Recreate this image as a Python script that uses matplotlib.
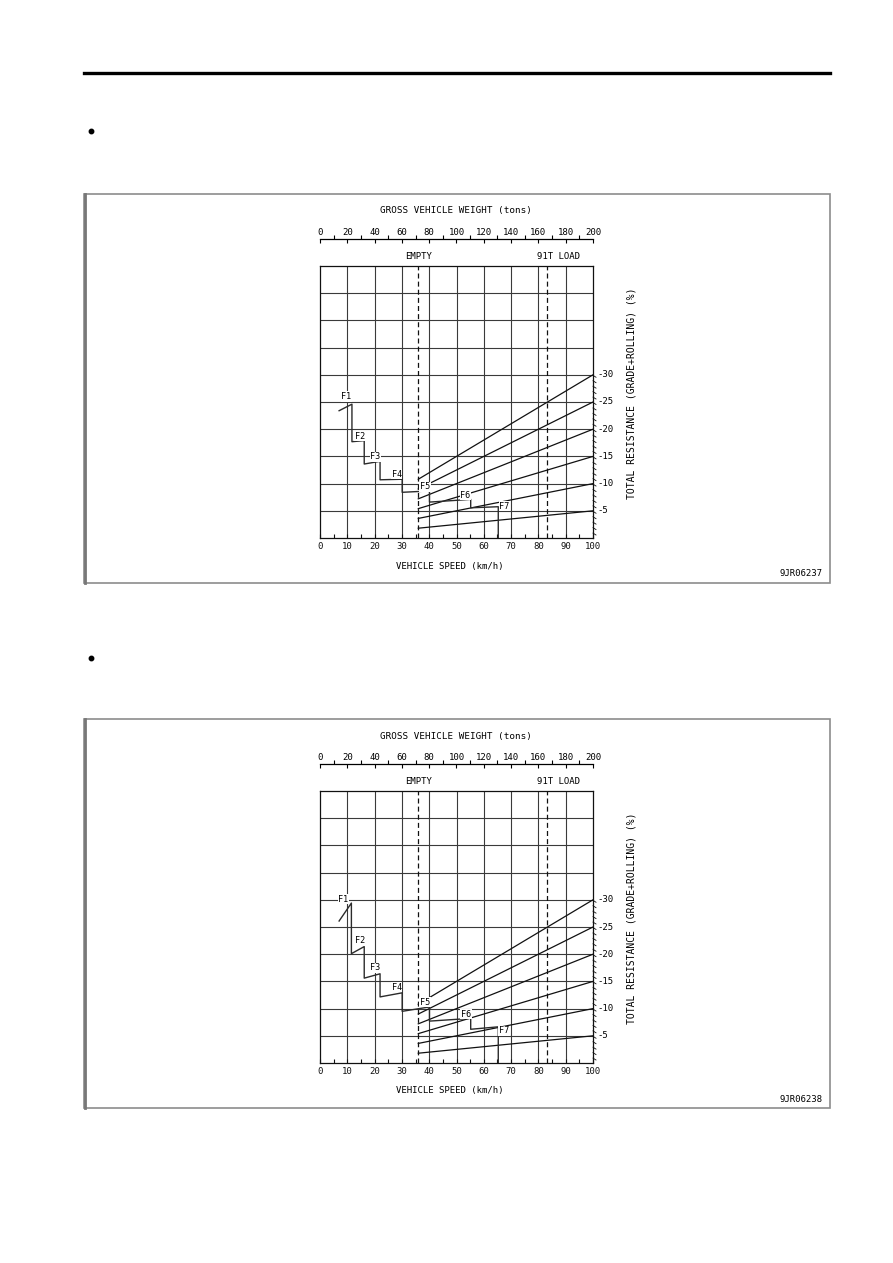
import matplotlib
matplotlib.use("Agg")
import matplotlib.pyplot as plt
from matplotlib.patches import Rectangle
from matplotlib.lines import Line2D

# --- data ---
SPEED_TICKS = [0, 10, 20, 30, 40, 50, 60, 70, 80, 90, 100]
WEIGHT_TICKS = [0, 20, 40, 60, 80, 100, 120, 140, 160, 180, 200]
RESIST = [5, 10, 15, 20, 25, 30]          # % at right edge
EMPTY_SPEED = 36                            # km/h position of EMPTY line
LOAD_SPEED = 83.3                           # km/h position of 91T LOAD line
GEARS = ["F1", "F2", "F3", "F4", "F5", "F6", "F7"]

# chart 1 (9JR06237)
c1_x = [7.0, 11.7, 11.7, 16.2, 16.2, 22.0, 22.0, 30.1, 30.1, 40.1, 40.1, 55.2, 55.2, 65.3, 65.3]
c1_y = [23.4, 24.6, 17.7, 17.9, 13.6, 14.1, 10.7, 10.8, 8.4, 8.65, 6.6, 7.1, 5.55, 5.75, 0.0]
c1_lx = [9.7, 14.6, 20.3, 28.1, 38.4, 53.3, 67.5]
c1_ly = [26.0, 18.7, 14.9, 11.7, 9.4, 7.9, 5.85]

# chart 2 (9JR06238)
c2_x = [7.0, 11.5, 11.5, 16.2, 16.2, 22.0, 22.0, 30.1, 30.1, 40.1, 40.1, 55.2, 55.2, 65.3, 65.3]
c2_y = [26.1, 29.4, 20.1, 21.4, 15.6, 16.4, 12.15, 12.9, 9.5, 10.3, 7.7, 8.2, 6.2, 6.65, 0.0]
c2_lx = [8.6, 14.6, 20.2, 28.1, 38.5, 53.4, 67.4]
c2_ly = [30.1, 22.5, 17.5, 13.9, 11.2, 9.0, 5.9]

W, H = 893, 1263
FONT = "DejaVu Sans Mono"
FS = 6.5
INK = "#111111"
GRIDC = "#3a3a3a"
BOX = "#8c8c8c"

plt.rcParams.update({"font.family": FONT, "font.size": FS})

fig = plt.figure(figsize=(W / 100, H / 100), dpi=100)


def fx(px):
    return px / W


def fy(py):
    return 1 - py / H


def chart(off, cx, cy, lx, ly, code):
    # outer frame
    fig.patches.append(Rectangle((fx(84), fy(583 + off)), fx(830) - fx(84),
                                 fy(194 + off) - fy(583 + off), transform=fig.transFigure,
                                 fill=False, edgecolor=BOX, linewidth=1.2))
    fig.add_artist(Line2D([fx(84.5), fx(84.5)], [fy(583 + off), fy(194 + off)],
                          color="#777777", linewidth=2.0))

    ax = fig.add_axes([fx(320), fy(538 + off), fx(593) - fx(320), fy(266 + off) - fy(538 + off)])
    ax.set_xlim(0, 100)
    ax.set_ylim(0, 50)
    for s in ax.spines.values():
        s.set_color(INK)
        s.set_linewidth(0.9)
    for v in SPEED_TICKS[1:-1]:
        ax.axvline(v, color=GRIDC, linewidth=0.8, zorder=1)
    for v in range(5, 50, 5):
        ax.axhline(v, color=GRIDC, linewidth=0.8, zorder=1)

    ax.set_yticks([])
    ax.set_xticks(SPEED_TICKS)
    ax.set_xticks(range(5, 100, 10), minor=True)
    ax.tick_params(axis="x", which="both", direction="in", length=3, width=0.8,
                   pad=3, labelsize=FS, colors=INK)

    # top weight scale
    sec = ax.secondary_xaxis(1 + 26.5 / 272, functions=(lambda x: x * 2, lambda x: x / 2))
    sec.set_xticks(WEIGHT_TICKS)
    sec.set_xticks(range(10, 200, 20), minor=True)
    sec.spines["top"].set_linewidth(0.9)
    sec.tick_params(which="major", direction="in", length=3, width=0.8, pad=1.5, labelsize=FS)
    sec.tick_params(which="minor", direction="out", length=3, width=0.8)

    # EMPTY / 91T LOAD
    for v in (EMPTY_SPEED, LOAD_SPEED):
        ax.axvline(v, color=INK, linewidth=0.9, linestyle=(0, (4, 2.5)), zorder=2)
    ax.text(EMPTY_SPEED, 51.8, "EMPTY", ha="center", va="center", fontsize=FS)
    ax.text(79.4, 51.8, "91T LOAD", ha="left", va="center", fontsize=FS, clip_on=False)

    # resistance lines from the EMPTY line to the right edge
    for r in RESIST:
        ax.plot([EMPTY_SPEED, 100], [r * EMPTY_SPEED / 100, r], color=INK,
                linewidth=0.9, zorder=3)
        ax.text(101.6, r, f"-{r}", ha="left", va="center", fontsize=FS, clip_on=False)

    # hatching on the right edge
    for h in range(1, 31):
        ax.plot([100, 101.1], [h - 0.1, h - 0.45], color=INK, linewidth=0.6, clip_on=False)

    # gear curve
    ax.plot(cx, cy, color="#2b2b2b", linewidth=1.0, zorder=4)
    for g, x, y in zip(GEARS, lx, ly):
        ax.text(x, y, g, ha="center", va="center", fontsize=FS - 0.4, zorder=5,
                bbox=dict(facecolor="white", edgecolor="none", pad=0.4))

    fig.text(fx(456), fy(211 + off), "GROSS VEHICLE WEIGHT (tons)", ha="center", va="center",
             fontsize=FS + 0.2)
    fig.text(fx(450), fy(566 + off), "VEHICLE SPEED (km/h)", ha="center", va="center")
    fig.text(fx(631), fy(393 + off), "TOTAL RESISTANCE (GRADE+ROLLING) (%)",
             rotation=90, ha="center", va="center", fontsize=FS + 0.5)
    fig.text(fx(823), fy(574 + off), code, ha="right", va="center")
    return ax


# page header rule and bullets
fig.add_artist(Line2D([fx(84), fx(830)], [fy(73), fy(73)], color="black", linewidth=2.4))
for by in (131, 658):
    fig.add_artist(Line2D([fx(91)], [fy(by)], marker="o", markersize=3.2,
                          color="black", linestyle="none"))

chart(0, c1_x, c1_y, c1_lx, c1_ly, "9JR06237")
chart(525, c2_x, c2_y, c2_lx, c2_ly, "9JR06238")

fig.savefig("out.png", dpi=100)
